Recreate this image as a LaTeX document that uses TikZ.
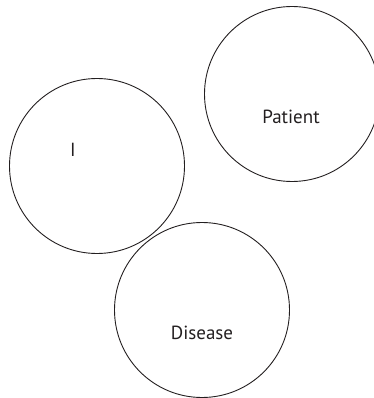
\documentclass[tikz,border=0pt]{standalone}
\usepackage{fontspec}
\setmainfont{PT Sans}
\definecolor{ink}{HTML}{231F20}
\begin{document}
\begin{tikzpicture}[x=1pt,y=-1pt,
  ring/.style={circle,draw=ink,line width=0.9pt,minimum size=175pt,inner sep=0pt},
  lbl/.style={text=ink,font=\fontsize{19}{22}\selectfont,anchor=base,inner sep=0pt}]
  \useasboundingbox (0,0) rectangle (373,398);
  % three circles
  \node[ring] (me) at (97,166) {};
  \node[ring] (patient) at (292,94) {};
  \node[ring] (disease) at (202,310) {};
  % labels
  \node[lbl] (tI) at (73,157) {I};
  \node[lbl] (tP) at (291,124) {Patient};
  \node[lbl] (tD) at (202,339) {Disease};
\end{tikzpicture}
\end{document}
